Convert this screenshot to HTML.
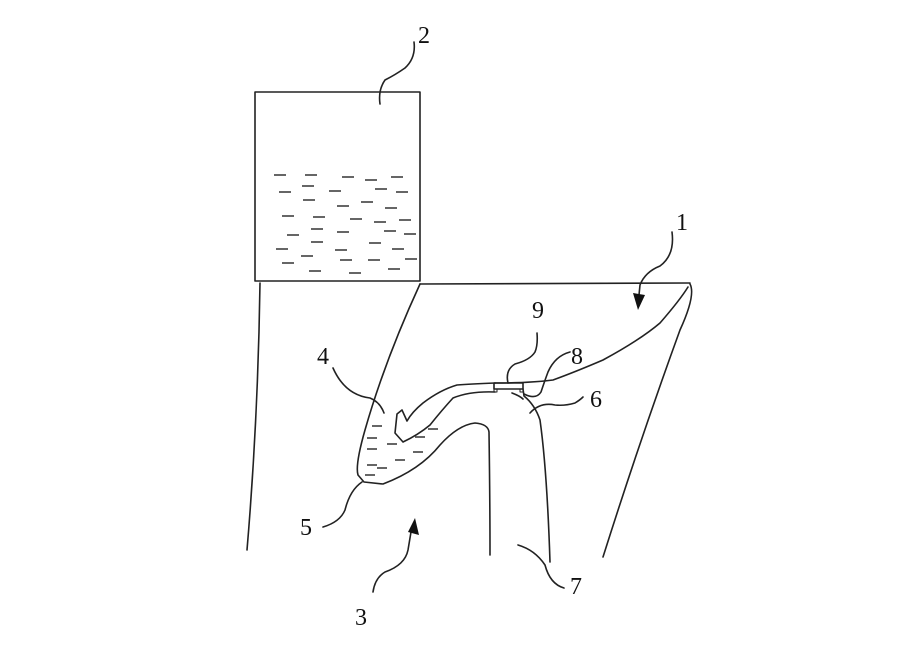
<!DOCTYPE html>
<html><head><meta charset="utf-8"><style>
html,body{margin:0;padding:0;background:#fff;}
svg{display:block}
text{font-family:"Liberation Serif",serif;font-size:24px;fill:#111}
</style></head><body>
<svg width="900" height="650" viewBox="0 0 900 650" xmlns="http://www.w3.org/2000/svg">
<g fill="none" stroke="#222" stroke-width="1.6" stroke-linecap="round" stroke-linejoin="round">
<rect x="255" y="92" width="165" height="189"/>
<path d="M260 283 Q258 420 247 550"/>
<path d="M420 284 L690 283"/>
<path d="M690 284 Q696 295 680 330 Q640 440 603 557"/>
<path d="M420 284 Q385 360 365 430 Q355 465 358 475 L364 482 L383 484 Q420 470 440 445 Q458 425 475 423 Q488 424 489 432 Q490 500 490 555"/>
<path d="M688 287 Q680 300 660 323 Q640 340 603 360 Q575 372 553 380 Q530 383 495 383"/>
<path d="M495 383 Q470 384 457 385 Q440 390 423 403 Q412 412 407 421 L402 410 L397 414 L395 433 L403 442 Q418 435 430 425 Q442 410 453 398 Q470 391 495 392"/>
<rect x="494" y="383" width="29" height="6"/>
<rect x="494" y="389" width="3" height="3" stroke-width="1"/>
<rect x="520" y="389" width="3" height="3" stroke-width="1"/>
<path d="M523 389 L524 396 Q535 405 540 420 Q547 470 550 562"/>
<path d="M414 42 Q416 58 405 68 Q395 75 385 80 Q378 90 380 104"/>
<path d="M672 232 Q675 255 660 266 Q645 272 640 285 L639 295"/>
<path d="M333 368 Q345 395 370 398 Q380 402 384 413"/>
<path d="M323 527 Q340 522 345 510 Q350 490 362 482"/>
<path d="M373 592 Q375 578 385 572 Q405 565 408 550 L411 532"/>
<path d="M518 545 Q535 550 545 565 Q550 584 564 588"/>
<path d="M530 413 Q540 402 555 405 Q565 406 575 403 Q580 400 583 397"/>
<path d="M512 393 Q520 396 523 399"/>
<path d="M524 394 Q536 400 541 392 Q545 380 548 372 Q555 356 570 352"/>
<path d="M508 383 Q505 370 515 364 Q530 360 535 352 Q538 345 537 333"/>
</g>
<polygon points="633,293 645,295 638,310" fill="#111"/>
<polygon points="408,532 419,535 415,518" fill="#111"/>
<g stroke="#333" stroke-width="1.4">
<path d="M274 175h12M305 175h12M342 177h12M365 180h12M391 177h12M279 192h12M302 186h12M329 191h12M375 189h12M396 192h12M303 200h12M337 206h12M361 202h12M385 208h12M282 216h12M313 217h12M350 219h12M374 222h12M399 220h12M311 229h12M337 232h12M384 231h12M404 234h12M287 235h12M311 242h12M369 243h12M276 249h12M335 250h12M392 249h12M301 256h12M282 263h12M340 260h12M368 260h12M405 259h12M309 271h12M349 273h12M388 269h12"/>
<path d="M372 426h10M367 438h10M387 444h10M415 437h10M428 429h10M413 452h10M395 460h10M367 449h10M367 465h10M377 468h10M365 475h10"/>
</g>
<text x="418" y="43">2</text>
<text x="676" y="230">1</text>
<text x="532" y="318">9</text>
<text x="571" y="364">8</text>
<text x="590" y="407">6</text>
<text x="317" y="364">4</text>
<text x="300" y="535">5</text>
<text x="355" y="625">3</text>
<text x="570" y="594">7</text>
</svg>
</body></html>
